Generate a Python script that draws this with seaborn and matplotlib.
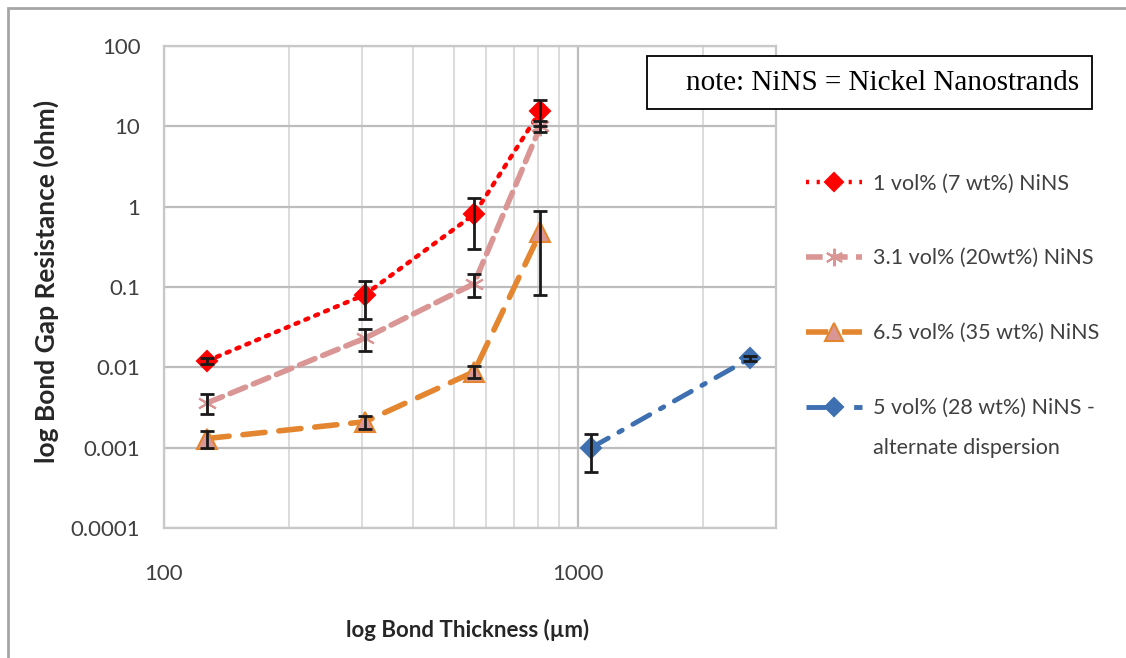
import numpy as np
import pandas as pd
import matplotlib
matplotlib.use("Agg")
import matplotlib.pyplot as plt
import seaborn as sns
from matplotlib.lines import Line2D
from matplotlib.patches import Rectangle

# donnees
labels = ["1 vol% (7 wt%) NiNS",
          "3.1 vol% (20wt%) NiNS",
          "6.5 vol% (35 wt%) NiNS",
          "5 vol% (28 wt%) NiNS -"]
label_suite = "alternate dispersion"

thick_1 = [127, 305, 560, 810]
res_1 = [0.012, 0.08, 0.8, 15.5]
err_1 = [0.001, 0.04, 0.5, 5.5]

thick_2 = [127, 305, 560, 810]
res_2 = [0.0036, 0.023, 0.11, 10]
err_2 = [0.001, 0.007, 0.035, 1.5]

thick_3 = [127, 305, 560, 810]
res_3 = [0.0013, 0.0021, 0.0088, 0.48]
err_3 = [0.0003, 0.0004, 0.0015, 0.4]

thick_4 = [1075, 2600]
res_4 = [0.001, 0.013]
err_4 = [0.0005, 0.001]

y_ticks = [0.0001, 0.001, 0.01, 0.1, 1, 10, 100]
y_tick_labels = ["0.0001", "0.001", "0.01", "0.1", "1", "10", "100"]
x_ticks = [100, 1000]
x_tick_labels = ["100", "1000"]

rows = []
for lab, xs, ys, es in zip(labels, [thick_1, thick_2, thick_3, thick_4],
                           [res_1, res_2, res_3, res_4], [err_1, err_2, err_3, err_4]):
    for x, y, e in zip(xs, ys, es):
        rows.append({"serie": lab, "thick": x, "res": y, "err": e})
df = pd.DataFrame(rows)

sns.set_style("white")
plt.rcParams['font.family'] = ['Lato', 'DejaVu Sans']

# styles des series
styles = {
    labels[0]: dict(color="#FF0000", ls=(0, (0.7, 1.7)), lw=3.2, marker="D", ms=10,
                    mfc="#FF0000", mec="#FF0000"),
    labels[1]: dict(color="#D99694", ls=(0, (3, 1.5)), lw=4, marker=(6, 2, 0), ms=14,
                    mfc="#D99694", mec="#D99694"),
    labels[2]: dict(color="#E3862F", ls=(0, (4, 2.5)), lw=4, marker="^", ms=14,
                    mfc="#D99694", mec="#E3862F"),
    labels[3]: dict(color="#3E6FB0", ls=(0, (4, 2.5, 0.8, 2.5)), lw=3.5, marker="D", ms=10,
                    mfc="#3E6FB0", mec="#3E6FB0"),
}

fig = plt.figure(figsize=(11.26, 6.58), dpi=100)
ax = fig.add_axes([164/1126, 1-528/658, (776-164)/1126, (528-46)/658])

for lab in labels:
    sub = df[df["serie"] == lab]
    st = styles[lab]
    sns.lineplot(data=sub, x="thick", y="res", ax=ax, color=st["color"], linewidth=st["lw"],
                 marker=st["marker"], markersize=st["ms"],
                 markerfacecolor=st["mfc"], markeredgecolor=st["mec"], markeredgewidth=1.5,
                 legend=False, zorder=3)
    ax.lines[-1].set_linestyle(st["ls"])
    ax.lines[-1].set_dash_capstyle("round")
    ax.errorbar(sub["thick"], sub["res"], yerr=sub["err"], fmt="none", ecolor="#1a1a1a",
                elinewidth=2, capsize=5, capthick=2, zorder=4)

ax.set_xscale("log")
ax.set_yscale("log")
ax.set_xlim(100, 3000)
ax.set_ylim(0.0001, 100)
ax.set_yticks(y_ticks)
ax.set_yticklabels(y_tick_labels)
ax.set_xticks(x_ticks)
ax.set_xticklabels(x_tick_labels)
ax.minorticks_off()
ax.set_xticks([200, 300, 400, 500, 600, 700, 800, 900, 2000, 3000], minor=True)
ax.tick_params(which="both", length=0, labelsize=16, colors="#404040")
ax.tick_params(axis="y", pad=17)
ax.tick_params(axis="x", pad=26)
ax.grid(which="major", axis="both", color="#bdbdbd", lw=1.6)
ax.grid(which="minor", axis="x", color="#d6d6d6", lw=1.2)
for sp in ax.spines.values():
    sp.set_color("#c8c8c8")
    sp.set_linewidth(1.6)
ax.set_xlabel("")
ax.set_ylabel("")

fig.text(468/1126, 1-630/658, "log Bond Thickness (\u00b5m)", ha="center", va="center",
         fontsize=16, fontweight="bold", color="#262626")
fig.text(46/1126, 1-281/658, "log Bond Gap Resistance (ohm)", ha="center", va="center",
         rotation=90, fontsize=19, fontweight="bold", color="#262626")

# legende
handles = []
for lab in labels:
    st = styles[lab]
    handles.append(Line2D([], [], color=st["color"], lw=st["lw"], ls=st["ls"], marker=st["marker"],
                          ms=st["ms"] * 0.9, mfc=st["mfc"], mec=st["mec"], mew=1.5))
leg = fig.legend(handles, labels, loc="upper left", bbox_to_anchor=(787/1126, 1-154/658),
                 frameon=False, fontsize=15.5, labelspacing=2.55, handlelength=2.6,
                 handletextpad=0.5, labelcolor="#404040")
fig.canvas.draw()
bb = leg.get_texts()[3].get_window_extent()
fig.text(bb.x0 / 1126, (bb.y0 - 30) / 658, label_suite, ha="left", va="center",
         fontsize=15.5, color="#404040")

# note
fig.text(883/1126, 1-83/658, "note: NiNS = Nickel Nanostrands", ha="center", va="center",
         fontsize=21, family="Liberation Serif", color="black", zorder=6)
fig.patches.append(Rectangle((647/1126, 1-109/658), (1092-647)/1126, (109-56)/658,
                             transform=fig.transFigure, fill=True, facecolor="white",
                             edgecolor="black", lw=1.3, zorder=5))

# cadre exterieur
fig.patches.append(Rectangle((8/1126, -0.1), 1.2, 1-8/658 + 0.1, transform=fig.transFigure,
                             fill=False, edgecolor="#a6a6a6", lw=2))

fig.savefig("out.png", dpi=100)
